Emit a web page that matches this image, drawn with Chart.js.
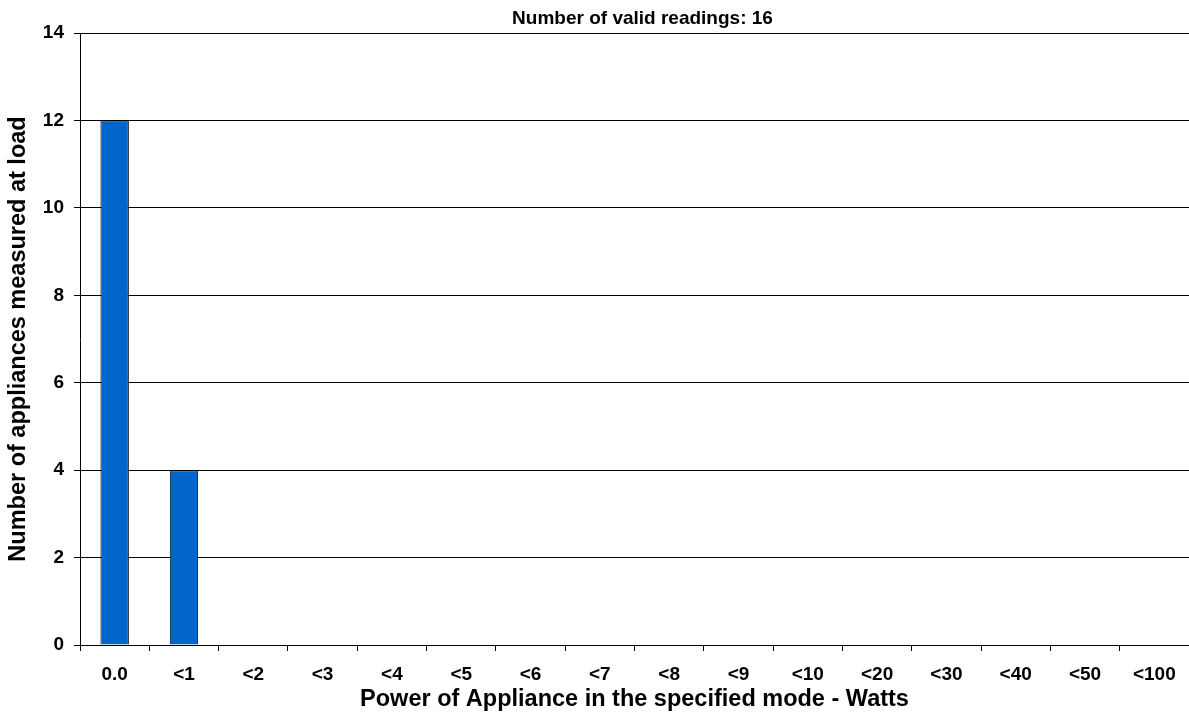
<!DOCTYPE html>
<html>
<head>
<meta charset="utf-8">
<script src="https://cdn.jsdelivr.net/npm/chart.js@4/dist/chart.umd.min.js"></script>
<style>
  html, body { margin: 0; padding: 0; background: #fff; }
  #wrap { width: 1189px; height: 727px; }
</style>
</head>
<body>
<div id="wrap"><canvas id="chart" width="1189" height="727"></canvas></div>
<script>
// Categories (power bins, Watts)
const categories = ["0.0", "<1", "<2", "<3", "<4", "<5", "<6", "<7", "<8", "<9", "<10", "<20", "<30", "<40", "<50", "<100"];
// Number of appliances in each bin
const counts = [12, 4, 0, 0, 0, 0, 0, 0, 0, 0, 0, 0, 0, 0, 0, 0];
const yTicks = [0, 2, 4, 6, 8, 10, 12, 14];
const validReadings = 16;

const FONT = "'Liberation Sans', Arial, sans-serif";

// title sits a little right of the plot centre, like the original
const topTitle = {
  id: "topTitle",
  afterDraw(chart) {
    const c = chart.ctx;
    const a = chart.chartArea;
    c.save();
    c.fillStyle = "#000";
    c.font = "bold 19px " + FONT;
    c.textAlign = "center";
    c.textBaseline = "middle";
    c.fillText("Number of valid readings: " + validReadings, (a.left + a.right) / 2 + 8, 19);
    c.restore();
  },
};

const ctx = document.getElementById("chart").getContext("2d");
new Chart(ctx, {
  type: "bar",
  data: {
    labels: categories,
    datasets: [
      {
        data: counts,
        backgroundColor: "#0066CC",
        borderColor: "#000",
        borderWidth: 1,
        barPercentage: 0.41,
        categoryPercentage: 1,
      },
    ],
  },
  plugins: [topTitle],
  options: {
    responsive: false,
    animation: false,
    layout: { padding: { top: 33, left: 0, right: 0, bottom: 0 } },
    plugins: {
      legend: { display: false },
      tooltip: { enabled: false },
      title: { display: false },
    },
    scales: {
      x: {
        grid: { display: true, drawOnChartArea: false, drawTicks: true, tickLength: 6, color: "#000", offset: true },
        border: { color: "#000", width: 1 },
        ticks: { color: "#000", font: { family: FONT, size: 19, weight: "bold" }, padding: 12, maxRotation: 0, autoSkip: false },
        title: {
          display: true,
          text: "Power of Appliance in the specified mode - Watts",
          color: "#000",
          font: { family: FONT, size: 23.5, weight: "bold" },
          padding: { top: 0, bottom: 13 },
        },
        afterFit: (s) => { s.height = 82; },
      },
      y: {
        min: 0,
        max: 14,
        afterBuildTicks: (s) => { s.ticks = yTicks.map((v) => ({ value: v })); },
        grid: { color: "#000", lineWidth: 1, tickLength: 6 },
        border: { color: "#000", width: 1 },
        ticks: { color: "#000", font: { family: FONT, size: 19, weight: "bold" }, padding: 10 },
        title: {
          display: true,
          text: "Number of appliances measured at load",
          color: "#000",
          font: { family: FONT, size: 23.5, weight: "bold" },
          padding: { top: 4, bottom: 0 },
        },
        afterFit: (s) => { s.width = 80; },
      },
    },
  },
});
</script>
</body>
</html>
